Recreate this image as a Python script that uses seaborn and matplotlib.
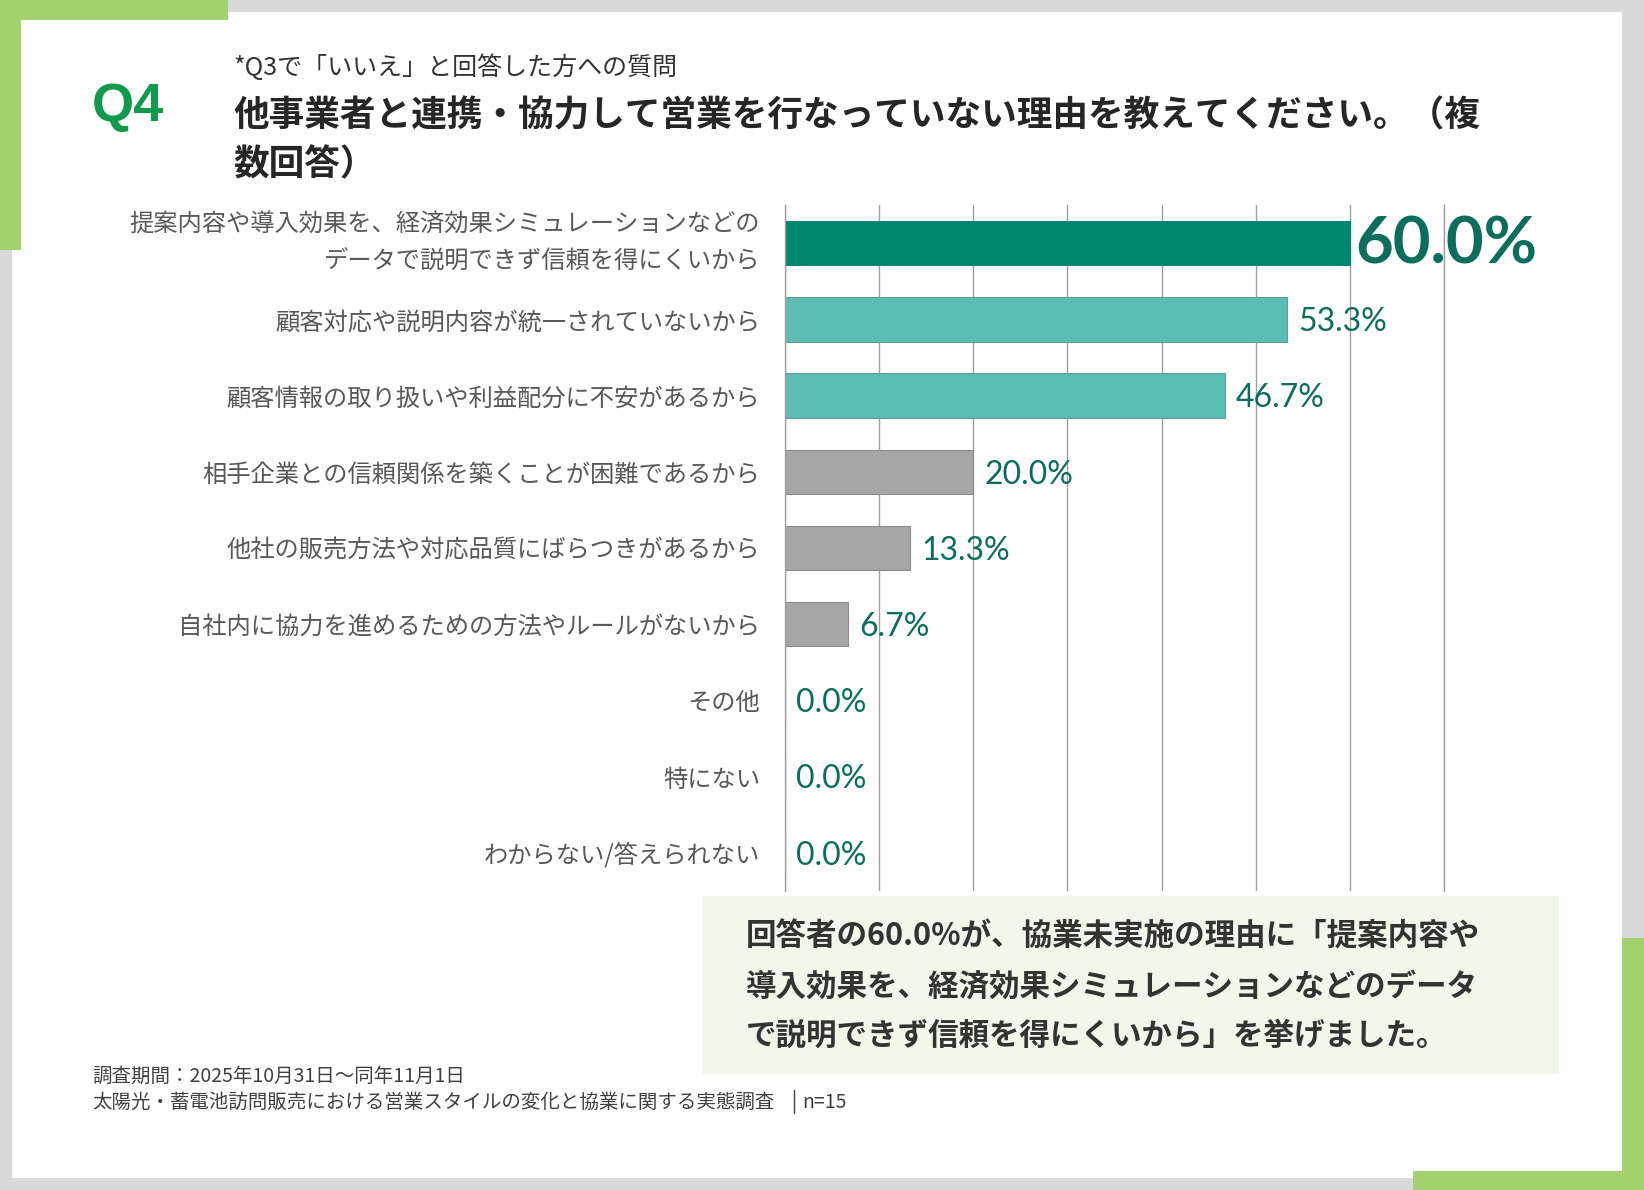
import matplotlib
matplotlib.use("Agg")
import matplotlib.pyplot as plt
import seaborn as sns
import pandas as pd
from matplotlib.patches import Rectangle

# ---------------- data ----------------
categories = [
    "提案内容や導入効果を、経済効果シミュレーションなどの\nデータで説明できず信頼を得にくいから",
    "顧客対応や説明内容が統一されていないから",
    "顧客情報の取り扱いや利益配分に不安があるから",
    "相手企業との信頼関係を築くことが困難であるから",
    "他社の販売方法や対応品質にばらつきがあるから",
    "自社内に協力を進めるための方法やルールがないから",
    "その他",
    "特にない",
    "わからない/答えられない",
]
values = [60.0, 53.3, 46.7, 20.0, 13.3, 6.7, 0.0, 0.0, 0.0]
value_labels = ["60.0%", "53.3%", "46.7%", "20.0%", "13.3%", "6.7%", "0.0%", "0.0%", "0.0%"]
x_ticks = [0, 10, 20, 30, 40, 50, 60, 70]

subtitle = "*Q3で「いいえ」と回答した方への質問"
title_lines = ["他事業者と連携・協力して営業を行なっていない理由を教えてください。（複", "数回答）"]
callout_lines = [
    "回答者の60.0%が、協業未実施の理由に「提案内容や",
    "導入効果を、経済効果シミュレーションなどのデータ",
    "で説明できず信頼を得にくいから」を挙げました。",
]
footer1 = "調査期間：2025年10月31日～同年11月1日"
footer2 = "太陽光・蓄電池訪問販売における営業スタイルの変化と協業に関する実態調査"
footer_n = "n=15"

# ---------------- styles ----------------
DARK = "#00876f"
TEAL = "#5bbdb3"
GRAY = "#a6a6a6"
bar_colors = [DARK, TEAL, TEAL, GRAY, GRAY, GRAY, GRAY, GRAY, GRAY]
edge_colors = [DARK, "#5f9f98", "#5f9f98", "#8c8c8c", "#8c8c8c", "#8c8c8c", "#8c8c8c", "#8c8c8c", "#8c8c8c"]
LABEL_GREEN = "#0b6e5c"
ACCENT = "#a5d270"

sns.set_theme(style="white")
plt.rcParams["font.family"] = ["Noto Sans CJK JP", "DejaVu Sans"]

W, H = 1644, 1190
fig = plt.figure(figsize=(W / 100, H / 100), dpi=100)
fig.patch.set_facecolor("#d9d9d9")

# background / decoration axes in pixel coords
bg = fig.add_axes([0, 0, 1, 1], zorder=0)
bg.set_xlim(0, W)
bg.set_ylim(H, 0)
bg.axis("off")
bg.add_patch(Rectangle((12, 12), 1610, 1166, fc="white", ec="none"))
bg.add_patch(Rectangle((0, 0), 228, 20, fc=ACCENT, ec="none"))
bg.add_patch(Rectangle((0, 0), 21, 250, fc=ACCENT, ec="none"))
bg.add_patch(Rectangle((1622, 938), 22, 252, fc=ACCENT, ec="none"))
bg.add_patch(Rectangle((1413, 1171), 231, 19, fc=ACCENT, ec="none"))
bg.add_patch(Rectangle((702, 896), 857, 178, fc="#f2f7ec", ec="none"))

bg.text(92, 121, "Q4", fontsize=39, fontweight="bold", color="#119a4b",
        family=["Liberation Sans", "DejaVu Sans"], va="baseline", ha="left")
bg.text(233, 68, subtitle, fontsize=18, color="#333333", va="center", ha="left")
bg.text(233, 116, title_lines[0], fontsize=25.7, fontweight="bold", color="#262626", va="center", ha="left")
bg.text(233, 165, title_lines[1], fontsize=25.7, fontweight="bold", color="#262626", va="center", ha="left")

for i, line in enumerate(callout_lines):
    bg.text(746, 937 + i * 49.5, line, fontsize=22, fontweight="bold", color="#333333",
            va="center", ha="left")

bg.text(92, 1076, footer1, fontsize=14, color="#404040", va="center", ha="left")
bg.text(92, 1102, footer2, fontsize=14, color="#404040", va="center", ha="left")
bg.plot([793.5, 793.5], [1090, 1113], color="#404040", lw=1)
bg.text(802, 1102, footer_n, fontsize=14, color="#404040", va="center", ha="left")

# ---------------- chart ----------------
left, right, top, bottom = 785, 1444, 205, 891
ax = fig.add_axes([left / W, 1 - bottom / H, (right - left) / W, (bottom - top) / H], zorder=1)
ax.patch.set_alpha(0)

df = pd.DataFrame({"category": categories, "value": values})
sns.barplot(data=df, x="value", y="category", hue="category", palette=bar_colors,
            legend=False, width=0.584, saturation=1, orient="h", ax=ax)

for patch, ec in zip(ax.patches, edge_colors):
    patch.set_edgecolor(ec)
    patch.set_linewidth(0.8)

ax.set_xlim(0, 70)
ax.set_ylim(len(categories) - 0.5, -0.5)
ax.set_xticks(x_ticks)
ax.xaxis.grid(True, color="#a0a0a0", lw=1.0)
ax.yaxis.grid(False)
ax.set_axisbelow(True)
ax.set_xlabel("")
ax.set_ylabel("")
ax.tick_params(axis="x", length=0, labelbottom=False)
ax.tick_params(axis="y", length=0, pad=18, labelsize=17.5, labelcolor="#595959")
for lbl in ax.get_yticklabels():
    if "\n" in lbl.get_text():
        lbl.set_linespacing(1.55)
        lbl.set_va("center")
for side in ["top", "bottom"]:
    ax.spines[side].set_visible(False)
for side in ["left", "right"]:
    ax.spines[side].set_visible(True)
    ax.spines[side].set_color("#a0a0a0")
    ax.spines[side].set_linewidth(1.0)

for i, (v, txt) in enumerate(zip(values, value_labels)):
    if i == 0:
        ax.annotate(txt, xy=(v, i), xytext=(4, -1), textcoords="offset points",
                    va="center", ha="left", fontsize=47, fontweight="bold",
                    color=LABEL_GREEN, family=["Lato", "DejaVu Sans"])
    else:
        ax.annotate(txt, xy=(v, i), xytext=(8, -2), textcoords="offset points",
                    va="center", ha="left", fontsize=23,
                    color=LABEL_GREEN, family=["Lato", "DejaVu Sans"])

fig.savefig("out.png", dpi=100, facecolor=fig.get_facecolor())
